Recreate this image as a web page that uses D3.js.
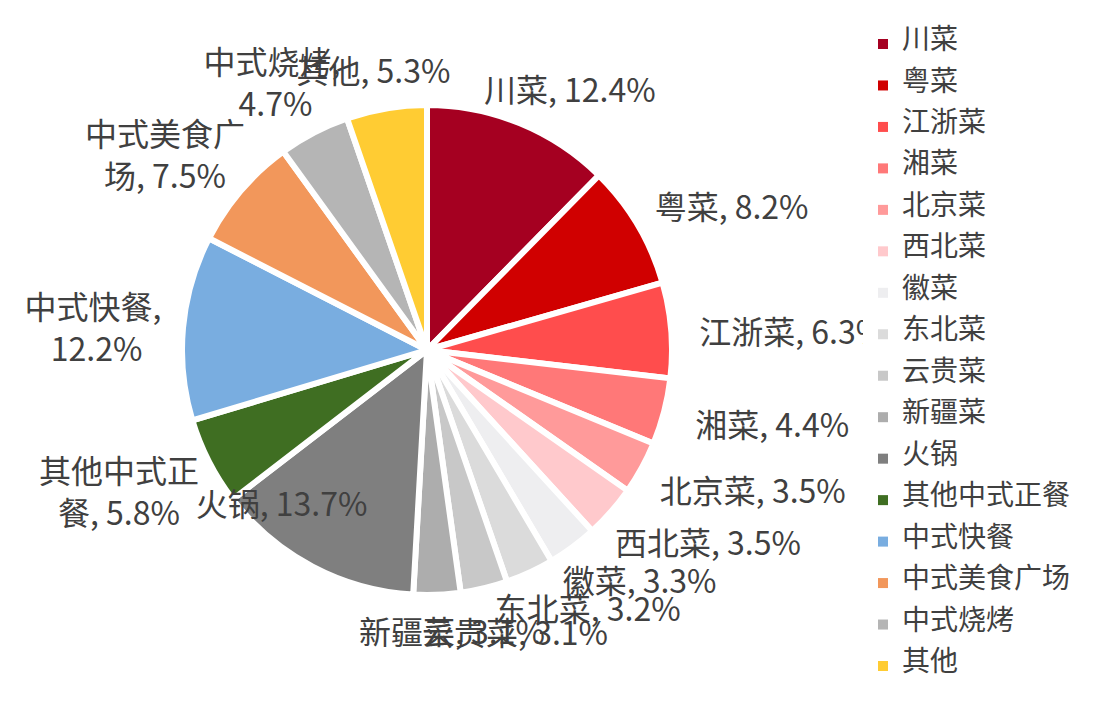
<!DOCTYPE html>
<html>
<head>
<meta charset="utf-8">
<script src="https://cdn.jsdelivr.net/npm/d3@7"></script>
<style>
  html, body { margin: 0; padding: 0; background: #fff; }
  svg text { font-family: "Noto Sans CJK SC", "Noto Sans", sans-serif; fill: #404040; }
</style>
</head>
<body>
<svg id="chart" width="1108" height="702"></svg>
<script>
// data
const categories = ["川菜", "粤菜", "江浙菜", "湘菜", "北京菜", "西北菜", "徽菜", "东北菜",
  "云贵菜", "新疆菜", "火锅", "其他中式正餐", "中式快餐", "中式美食广场", "中式烧烤", "其他"];
const shares = [12.4, 8.2, 6.3, 4.4, 3.5, 3.5, 3.3, 3.2, 3.1, 3.1, 13.7, 5.8, 12.2, 7.5, 4.7, 5.3];
const colors = ["#A50021", "#D00000", "#FF4D4D", "#FF7878", "#FF9A9A", "#FFC9CC", "#EEEEF0", "#DBDBDB",
  "#C8C8C8", "#ADADAD", "#7F7F7F", "#3F6E22", "#79ADE0", "#F2975B", "#B5B5B5", "#FFCC33"];
// where a data label wraps onto a second line (characters on line 1)
const wrapAfter = { "其他中式正餐": 5, "中式快餐": 5, "中式美食广场": 5, "中式烧烤": 5 };

// label nudges from the slice's outer mid point (layout only)
const labelNudge = [
  [50, -33], [94, -17], [121, 2], [108, 14], [111, 24], [97, 32], [67, 34], [58, 37],
  [31, 45], [15, 38], [-31, -62], [-90, 31], [-90, 1], [-76, -35], [-42, -49], [-13, -37]
];

const cx = 427, cy = 350, radius = 245;
const svg = d3.select("#chart");

const pie = d3.pie().sort(null).value((d) => d.value);
const arcs = pie(categories.map((c, i) => ({ name: c, value: shares[i], color: colors[i], idx: i })));
const arc = d3.arc().innerRadius(0).outerRadius(radius);

const g = svg.append("g").attr("transform", `translate(${cx},${cy})`);

g.selectAll("path")
  .data(arcs)
  .enter()
  .append("path")
  .attr("d", arc)
  .attr("fill", (d) => d.data.color)
  .attr("stroke", "#fff")
  .attr("stroke-width", 6)
  .attr("stroke-linejoin", "round");

// labels
const labelSize = 32;
g.selectAll(".lbl")
  .data(arcs)
  .enter()
  .append("text")
  .attr("class", "lbl")
  .attr("text-anchor", "middle")
  .attr("font-size", labelSize + "px")
  .each(function (d) {
    const mid = (d.startAngle + d.endAngle) / 2;
    const nudge = labelNudge[d.data.idx];
    const x = radius * Math.sin(mid) + nudge[0];
    const y = -radius * Math.cos(mid) + nudge[1];
    const full = `${d.data.name}, ${d.data.value}%`;
    const cut = wrapAfter[d.data.name];
    let lines = [full];
    if (cut) {
      const a = full.slice(0, cut);
      const rest = full.slice(cut);
      lines = a.length === d.data.name.length ? [a + ",", rest.replace(/^,\s*/, "")] : [a, rest];
    }
    const lh = 1.3 * labelSize;
    const t = d3.select(this);
    lines.forEach((ln, k) => {
      t.append("tspan")
        .attr("x", x)
        .attr("y", y + (k - (lines.length - 1) / 2) * lh)
        .attr("dy", "0.36em")
        .text(ln);
    });
  });

// legend (white panel drawn over the chart, like the original)
const legend = svg.append("g");
legend.append("rect")
  .attr("x", 863).attr("y", 0).attr("width", 245).attr("height", 702)
  .attr("fill", "#fff");

const rowY = d3.scalePoint().domain(categories).range([39, 661]);
const item = legend.selectAll(".item")
  .data(categories)
  .enter()
  .append("g")
  .attr("transform", (d) => `translate(0,${rowY(d)})`);

item.append("rect")
  .attr("x", 878).attr("y", 0).attr("width", 10).attr("height", 10)
  .attr("fill", (d, i) => colors[i]);

item.append("text")
  .attr("x", 902)
  .attr("y", 0)
  .attr("dy", "0.36em")
  .attr("font-size", "28px")
  .text((d) => d);
</script>
</body>
</html>
